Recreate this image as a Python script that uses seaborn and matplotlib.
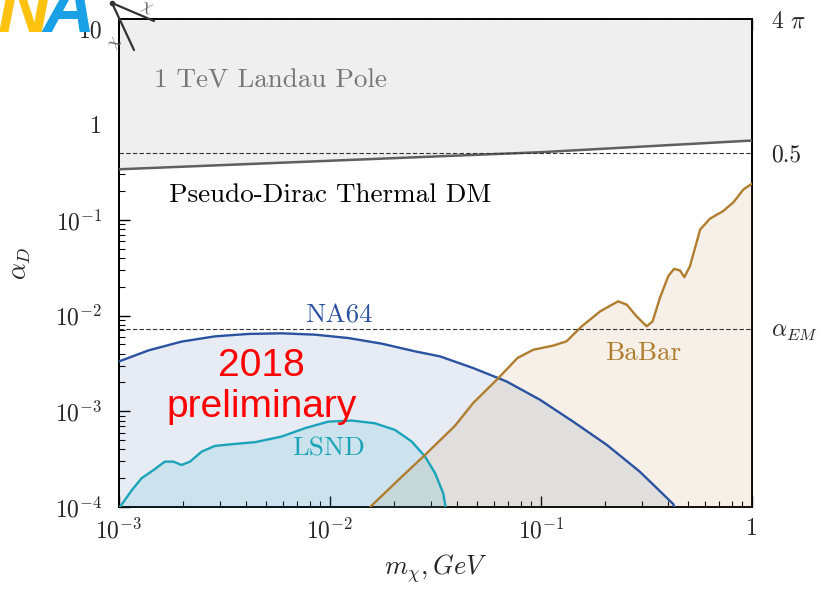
import numpy as np
import pandas as pd
import matplotlib
matplotlib.use("Agg")
import matplotlib.pyplot as plt
from matplotlib.ticker import FixedLocator, FuncFormatter, LogLocator, NullFormatter
from matplotlib.lines import Line2D
import seaborn as sns

# ---- data -------------------------------------------------------------
landau_mass = [1e-3, 1e-2, 1e-1, 1.0]
landau_alpha = [0.338, 0.415, 0.51, 0.675]

na64_mass = [1.0e-3, 1.38e-3, 1.98e-3, 2.85e-3, 4.10e-3, 5.90e-3, 8.49e-3, 1.22e-2,
             1.76e-2, 2.53e-2, 3.32e-2, 4.77e-2, 6.87e-2, 9.89e-2, 0.142, 0.205,
             0.294, 0.424, 0.428]
na64_alpha = [3.32e-3, 4.33e-3, 5.35e-3, 6.07e-3, 6.43e-3, 6.53e-3, 6.32e-3, 5.83e-3,
              5.09e-3, 4.23e-3, 3.75e-3, 2.83e-3, 2.05e-3, 1.32e-3, 7.8e-4, 4.46e-4,
              2.34e-4, 1.07e-4, 1.0e-4]

lsnd_mass = [1.01e-3, 1.15e-3, 1.28e-3, 1.46e-3, 1.65e-3, 1.81e-3, 1.98e-3, 2.17e-3,
             2.47e-3, 2.85e-3, 3.42e-3, 4.42e-3, 5.90e-3, 7.62e-3, 9.82e-3, 1.27e-2,
             1.63e-2, 2.03e-2, 2.44e-2, 2.82e-2, 3.15e-2, 3.44e-2, 3.53e-2]
lsnd_alpha = [1.0e-4, 1.5e-4, 2.0e-4, 2.44e-4, 2.98e-4, 2.98e-4, 2.75e-4, 2.98e-4,
              3.8e-4, 4.35e-4, 4.53e-4, 4.76e-4, 5.45e-4, 6.67e-4, 7.8e-4, 8.0e-4,
              7.5e-4, 6.4e-4, 4.83e-4, 3.37e-4, 2.25e-4, 1.39e-4, 1.0e-4]

babar_mass = [0.0155, 0.0211, 0.0282, 0.0391, 0.0477, 0.0628, 0.0773, 0.092, 0.114,
              0.132, 0.156, 0.191, 0.232, 0.255, 0.284, 0.317, 0.338, 0.366, 0.401,
              0.427, 0.456, 0.478, 0.508, 0.568, 0.632, 0.731, 0.817, 0.910, 1.0]
babar_alpha = [1.0e-4, 1.92e-4, 3.5e-4, 7.05e-4, 1.22e-3, 2.22e-3, 3.6e-3, 4.4e-3,
               4.85e-3, 5.38e-3, 7.73e-3, 0.0111, 0.0141, 0.0130, 0.0098, 0.00773,
               0.0087, 0.0153, 0.0258, 0.0308, 0.0296, 0.0252, 0.0328, 0.0794, 0.103,
               0.124, 0.153, 0.208, 0.239]

alpha_unitarity = 0.5
alpha_em = 1 / 137.0
alpha_max = 4 * np.pi

x_ticks = [1e-3, 1e-2, 1e-1, 1.0]
x_ticklabels = [r"$10^{-3}$", r"$10^{-2}$", r"$10^{-1}$", "1"]
y_ticks = [1e-4, 1e-3, 1e-2, 1e-1, 1.0, 10.0]
y_ticklabels = [r"$10^{-4}$", r"$10^{-3}$", r"$10^{-2}$", r"$10^{-1}$", "1", "10"]
right_ticks = [alpha_max, alpha_unitarity, alpha_em]
right_ticklabels = [r"4 $\pi$", "0.5", r"$\alpha_{EM}$"]

# ---- style ------------------------------------------------------------
sns.set_theme(style="ticks")
plt.rcParams.update({
    "font.family": "serif",
    "font.serif": ["cmr10", "DejaVu Serif"],
    "mathtext.fontset": "cm",
    "axes.formatter.use_mathtext": True,
    "axes.unicode_minus": False,
    "axes.edgecolor": "black",
    "axes.linewidth": 1.4,
    "lines.solid_joinstyle": "round",
})

blue = "#2a52a0"
cyan = "#1ba3b9"
brown = "#b07d2f"

fig = plt.figure(figsize=(8.36, 5.92), dpi=100)
ax = fig.add_axes([119 / 836, 1 - 507 / 592, (752 - 119) / 836, (507 - 19) / 592])
ax.set_xscale("log")
ax.set_yscale("log")
ax.set_xlim(1e-3, 1.0)
ax.set_ylim(1e-4, alpha_max)

# Landau pole region
ax.fill_between(landau_mass, landau_alpha, alpha_max, color="#efefef", lw=0, zorder=1)
sns.lineplot(x=landau_mass, y=landau_alpha, ax=ax, color="#5f5f5f", lw=1.8,
             sort=False, estimator=None, zorder=6)

# Exclusion regions
ax.fill_between(na64_mass, na64_alpha, 1e-5, color=blue, alpha=0.11, lw=0, zorder=2)
ax.fill_between(babar_mass, babar_alpha, 1e-5, color=brown, alpha=0.11, lw=0, zorder=3)
ax.fill_between(lsnd_mass, lsnd_alpha, 1e-5, color=cyan, alpha=0.13, lw=0, zorder=4)

curves = pd.concat([
    pd.DataFrame({"m": na64_mass, "a": na64_alpha, "exp": "NA64"}),
    pd.DataFrame({"m": lsnd_mass, "a": lsnd_alpha, "exp": "LSND"}),
    pd.DataFrame({"m": babar_mass, "a": babar_alpha, "exp": "BaBar"}),
])
sns.lineplot(data=curves, x="m", y="a", hue="exp",
             palette={"NA64": blue, "LSND": cyan, "BaBar": brown},
             ax=ax, lw=1.7, sort=False, estimator=None, legend=False, zorder=5)

# Reference couplings
for level in (alpha_unitarity, alpha_em):
    ax.axhline(level, color="#333333", lw=0.8, ls=(0, (4, 2)), zorder=7)

# ---- ticks ------------------------------------------------------------
ax.xaxis.set_major_locator(FixedLocator(x_ticks))
ax.xaxis.set_major_formatter(FuncFormatter(lambda v, p: x_ticklabels[x_ticks.index(v)] if v in x_ticks else ""))
ax.yaxis.set_major_locator(FixedLocator(y_ticks))
ax.yaxis.set_major_formatter(FuncFormatter(lambda v, p: y_ticklabels[y_ticks.index(v)] if v in y_ticks else ""))
ax.xaxis.set_minor_locator(LogLocator(base=10, subs=np.arange(2, 10), numticks=20))
ax.yaxis.set_minor_locator(LogLocator(base=10, subs=np.arange(2, 10), numticks=20))
ax.xaxis.set_minor_formatter(NullFormatter())
ax.yaxis.set_minor_formatter(NullFormatter())
ax.tick_params(which="both", direction="in", top=True, right=True, color="black")
ax.tick_params(which="major", length=8, width=1.0, labelsize=17)
ax.tick_params(which="minor", length=4, width=0.8)
ax.tick_params(axis="y", which="major", pad=12)
ax.tick_params(axis="x", which="major", pad=8)

ax2 = ax.twinx()
ax2.set_yscale("log")
ax2.set_ylim(ax.get_ylim())
ax2.yaxis.set_major_locator(FixedLocator(right_ticks))
ax2.yaxis.set_major_formatter(FuncFormatter(lambda v, p: right_ticklabels[p] if p is not None and p < 3 else ""))
ax2.yaxis.set_minor_locator(FixedLocator([]))
ax2.tick_params(axis="y", which="major", length=0, labelsize=17, pad=14)
for s in ax2.spines.values():
    s.set_visible(False)

ax.set_xlabel(r"$m_\chi, GeV$", fontsize=19, labelpad=6)
ax.set_ylabel(r"$\alpha_D$", fontsize=19, labelpad=16)

# ---- annotations ------------------------------------------------------
ax.text(1.46e-3, 2.85, "1 TeV Landau Pole", color="#777777", fontsize=19.5,
        ha="left", va="center", zorder=8)
ax.text(1.72e-3, 0.18, "Pseudo-Dirac Thermal DM", color="black", fontsize=19.5,
        ha="left", va="center", zorder=8)
ax.text(1.1e-2, 1.0e-2, "NA64", color=blue, fontsize=19.5, ha="center", va="center", zorder=8)
ax.text(9.9e-3, 4.05e-4, "LSND", color=cyan, fontsize=19.5, ha="center", va="center", zorder=8)
ax.text(0.304, 4.1e-3, "BaBar", color=brown, fontsize=19.5, ha="center", va="center", zorder=8)
ax.text(4.75e-3, 3.0e-3, "2018", color="red", fontsize=28, ha="center", va="center",
        family=["Liberation Sans", "DejaVu Sans"], zorder=9)
ax.text(4.75e-3, 1.1e-3, "preliminary", color="red", fontsize=28, ha="center", va="center",
        family=["Liberation Sans", "DejaVu Sans"], zorder=9)

# Logo fragment and diagram in the upper-left corner
fig.text(-2 / 836, 1 - 32 / 592, "N", color="#ffc20e", fontsize=52, fontweight="bold",
         style="italic", family=["Liberation Sans", "DejaVu Sans"], ha="left", va="baseline")
fig.text(42 / 836, 1 - 32 / 592, "A", color="#1aa0e6", fontsize=52, fontweight="bold",
         style="italic", family=["Liberation Sans", "DejaVu Sans"], ha="left", va="baseline")
vx, vy = 112 / 836, 1 - 3 / 592
fig.add_artist(Line2D([vx, 154 / 836], [vy, 1 - 21 / 592], color="#333333", lw=1.6))
fig.add_artist(Line2D([vx, 134 / 836], [vy, 1 - 50 / 592], color="#333333", lw=1.6))
fig.add_artist(Line2D([vx], [vy], marker="o", ms=3, color="#333333"))
fig.text(146 / 836, 1 - 8 / 592, r"$\chi$", color="#555555", fontsize=12, rotation=-20,
         ha="center", va="center")
fig.text(115 / 836, 1 - 43 / 592, r"$\chi$", color="#555555", fontsize=12, rotation=60,
         ha="center", va="center")

fig.savefig("out.png", dpi=100)
